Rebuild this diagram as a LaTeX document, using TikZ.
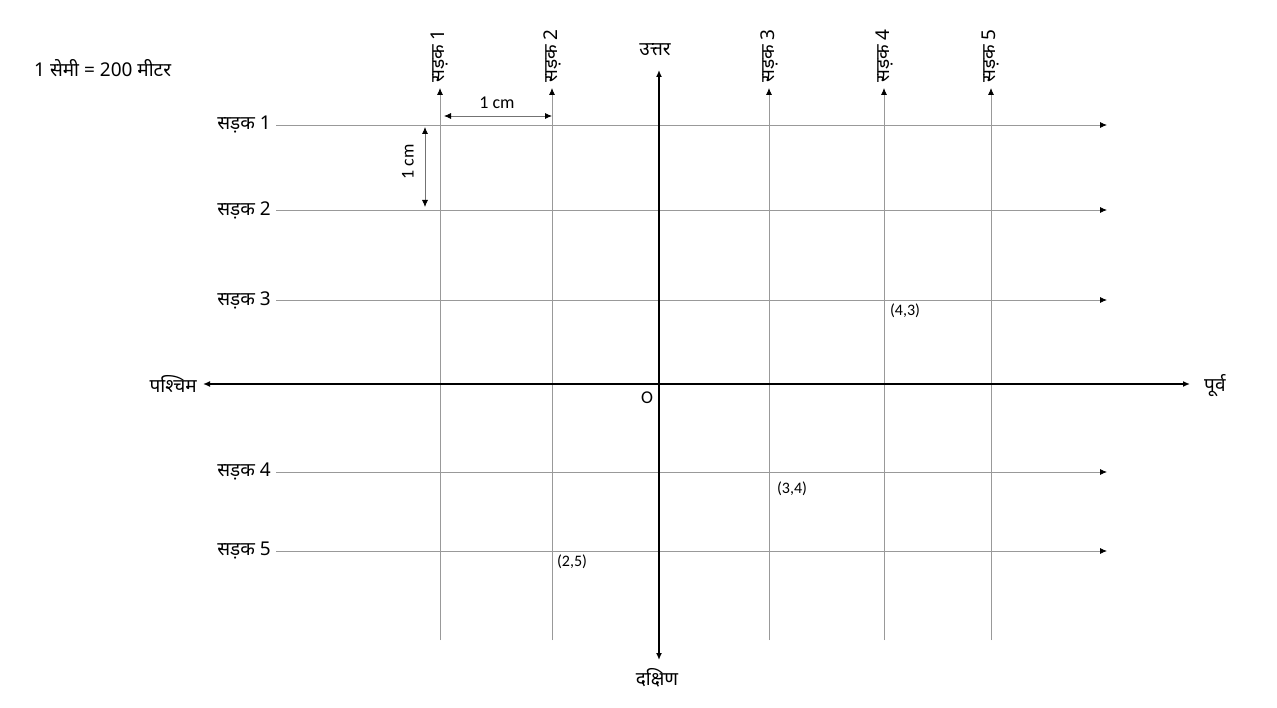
\documentclass[tikz,border=0pt]{standalone}
\usepackage{fontspec}
\setmainfont{Carlito}
\newfontfamily\dev[Script=Devanagari]{Noto Sans}
\usetikzlibrary{arrows.meta}
\begin{document}
\begin{tikzpicture}[x=1pt,y=-1pt,
  road/.style={draw=black!40,line width=0.8pt,-{Latex[length=7pt,width=6pt,black]}},
  axis/.style={draw=black,line width=1.5pt,{Latex[length=7pt,width=6pt]}-{Latex[length=7pt,width=6pt]}},
  dim/.style={draw=black!55,line width=0.8pt,{Latex[length=7pt,width=6pt,black]}-{Latex[length=7pt,width=6pt,black]}},
  lbl/.style={font=\dev\fontsize{19}{22}\selectfont,inner sep=1pt},
  small/.style={font=\fontsize{16}{18}\selectfont,inner sep=1pt},
  mid/.style={font=\fontsize{18}{21}\selectfont,inner sep=1pt}]
\useasboundingbox (0,0) rectangle (1277,708);
% horizontal roads
\foreach \i/\y in {1/125,2/210,3/300,4/472,5/551}{
  \node[lbl,anchor=east] (h\i) at (272,\y) {सड़क \i};
  \coordinate (hs\i) at (276,\y);
  \coordinate (he\i) at (1107,\y);
  \draw[road] (hs\i) -- (he\i);
}
% vertical roads
\foreach \i/\x in {1/440,2/552,3/769,4/884,5/991}{
  \coordinate (vs\i) at (\x,640);
  \coordinate (ve\i) at (\x,88);
  \draw[road] (vs\i) -- (ve\i);
  \node[lbl,rotate=90,anchor=west] (v\i) at (\x,84) {सड़क \i};
}
% axes
\node[lbl,anchor=east] (west) at (198,384) {पश्चिम};
\node[lbl,anchor=west] (east) at (1203,386) {पूर्व};
\node[lbl] (north) at (655,50) {उत्तर};
\node[lbl] (south) at (657,678) {दक्षिण};
\coordinate (wa) at (203,384);
\coordinate (ea) at (1190,384);
\coordinate (na) at (659,70);
\coordinate (sa) at (659,660);
\draw[axis] (wa) -- (ea);
\draw[axis] (na) -- (sa);
\node[mid] (o) at (647,398) {O};
% scale
\node[lbl,anchor=west] (scale) at (33,68) {1 सेमी = 200 मीटर};
% dimensions
\coordinate (d1a) at (444,116);
\coordinate (d1b) at (552,116);
\draw[dim] (d1a) -- (d1b);
\node[mid] (d1l) at (497,103) {1 cm};
\coordinate (d2a) at (425,127);
\coordinate (d2b) at (425,207);
\draw[dim] (d2a) -- (d2b);
\node[mid,rotate=90] (d2l) at (408,162) {1 cm};
% points
\node[small] (p43) at (905,311) {(4,3)};
\node[small] (p34) at (792,489) {(3,4)};
\node[small] (p25) at (572,562) {(2,5)};
\end{tikzpicture}
\end{document}
